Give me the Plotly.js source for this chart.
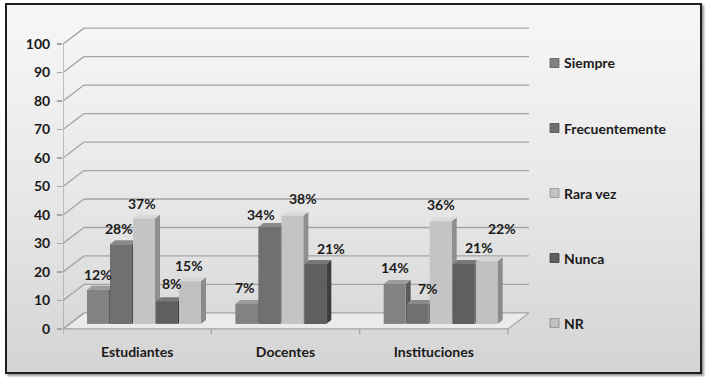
<!DOCTYPE html>
<html>
<head>
<meta charset="utf-8">
<script src="https://cdn.plot.ly/plotly-3.0.1.min.js"></script>
<style>
  html, body { margin: 0; padding: 0; width: 708px; height: 384px; background: #ffffff; overflow: hidden; }
  #frame { position: absolute; left: 5px; top: 3px; width: 693px; height: 367px;
           border: 2px solid #1e1e1e; box-shadow: 2px 2px 2px #9a9a9a;
           background: linear-gradient(to bottom, #f7f7f7 0%, #e8e8e8 50%, #d4d4d4 100%); }
  #chart { position: absolute; left: 0; top: 0; width: 708px; height: 384px; }
</style>
</head>
<body>
<div id="frame"></div>
<div id="chart"></div>
<script>
// ---- data ----
const categories = ["Estudiantes", "Docentes", "Instituciones"];
const seriesNames = ["Siempre", "Frecuentemente", "Rara vez", "Nunca", "NR"];
const siempre        = [12, 7, 14];
const frecuentemente = [28, 34, 7];
const raraVez        = [37, 38, 36];
const nunca          = [8, 21, 21];
const nr             = [15, null, 22];
const yTicks = [0, 10, 20, 30, 40, 50, 60, 70, 80, 90, 100];

const seriesValues = [siempre, frecuentemente, raraVez, nunca, nr];

// ---- styles ----
const FONT = "Lato, 'Open Sans', sans-serif";
const front = ["#828282", "#707070", "#c4c4c4", "#5f5f5f", "#c0c0c0"];
const side  = ["#5a5a5a", "#4c4c4c", "#8f8f8f", "#3e3e3e", "#8b8b8b"];
const top_  = ["#9c9c9c", "#8a8a8a", "#dadada", "#787878", "#d6d6d6"];
const BASE = 1.75;          // bars stand slightly into the floor
const FIRST = -0.338, SLOT = 0.155, BW = 0.148;
const DX = 0.034, DY = 1.4; // bar depth
const FDX = 0.1416, FDY = 5.6; // floor / wall depth
const XMIN = -0.5, XMAX = 2.5;
// label nudges [px right, px up] per group/series
const nudge = [
  [[0,0],[-2,0],[-2,0],[5,2],[-1,0]],
  [[-1,1],[-8,-3],[11,2],[16,0],[0,0]],
  [[0,1],[10,0],[0,1],[15,1],[15,17]]
];

const xIdx = categories.map((c, i) => i);
const traces = seriesValues.map((vals, s) => ({
  type: "bar", name: seriesNames[s], x: xIdx, y: vals,
  base: BASE, offset: FIRST + s * SLOT, width: BW,
  marker: { color: front[s], line: { width: 0 } },
  showlegend: false, hoverinfo: "skip"
}));

const shapes = [];
const gridColor = "#a3a3a3";
// floor
shapes.push({ type: "path", xref: "x", yref: "y", layer: "below",
  path: `M${XMIN},0 L${XMAX},0 L${XMAX+FDX},${FDY} L${XMIN+FDX},${FDY} Z`,
  fillcolor: "#ebebeb", line: { color: gridColor, width: 1.2 } });
// wall gridlines
yTicks.forEach(v => {
  shapes.push({ type: "line", xref: "x", yref: "y", layer: "below",
    x0: XMIN, y0: v, x1: XMIN + FDX, y1: v + FDY, line: { color: gridColor, width: 1.3 } });
  if (v > 0) shapes.push({ type: "line", xref: "x", yref: "y", layer: "below",
    x0: XMIN + FDX, y0: v + FDY, x1: XMAX + FDX, y1: v + FDY, line: { color: gridColor, width: 1.3 } });
});
// y axis line
shapes.push({ type: "line", xref: "x", yref: "y", layer: "below",
  x0: XMIN, y0: 0, x1: XMIN, y1: yTicks[yTicks.length-1], line: { color: gridColor, width: 1.3 } });
// x axis ticks at category boundaries
for (let k = 0; k <= categories.length; k++) {
  shapes.push({ type: "line", xref: "x", yref: "y", layer: "below",
    x0: XMIN + k, y0: 0, x1: XMIN + k, y1: -1.8, line: { color: gridColor, width: 1.3 } });
}
// bar side and top faces (behind front faces)
const annotations = [];
seriesValues.forEach((vals, s) => {
  vals.forEach((v, g) => {
    if (v === null || v === undefined) return;
    const x0 = g + FIRST + s * SLOT, x1 = x0 + BW;
    const yb = BASE, yt = BASE + v;
    shapes.push({ type: "path", xref: "x", yref: "y", layer: "below",
      path: `M${x1},${yb} L${x1+DX},${yb+DY} L${x1+DX},${yt+DY} L${x1},${yt} Z`,
      fillcolor: side[s], line: { width: 0 } });
    shapes.push({ type: "path", xref: "x", yref: "y", layer: "below",
      path: `M${x0},${yt} L${x1},${yt} L${x1+DX},${yt+DY} L${x0+DX},${yt+DY} Z`,
      fillcolor: top_[s], line: { width: 0 } });
    const n = nudge[g][s];
    annotations.push({ x: (x0 + x1) / 2, y: yt, xref: "x", yref: "y",
      text: v + "%", showarrow: false, yanchor: "bottom", xanchor: "center",
      xshift: n[0], yshift: 5 + n[1],
      font: { family: FONT, size: 14, color: "#1a1a1a", weight: 700 } });
  });
});
// manual legend
const legY = [63, 128, 193, 258, 323];
seriesNames.forEach((name, s) => {
  shapes.push({ type: "rect", xref: "paper", yref: "paper",
    xsizemode: "pixel", ysizemode: "pixel",
    xanchor: (554.5 - 63) / 466, yanchor: (336 - legY[s]) / 309,
    x0: -4.5, x1: 4.5, y0: -4.5, y1: 4.5,
    fillcolor: front[s], line: { color: side[s], width: 0.8 } });
  annotations.push({ xref: "paper", yref: "paper",
    x: (562 - 63) / 466, y: (336 - legY[s]) / 309,
    xanchor: "left", yanchor: "middle", showarrow: false, text: name,
    font: { family: FONT, size: 14, color: "#1a1a1a", weight: 700 } });
});

const layout = {
  width: 708, height: 384,
  margin: { l: 63, r: 179, t: 27, b: 48 },
  paper_bgcolor: "rgba(0,0,0,0)", plot_bgcolor: "rgba(0,0,0,0)",
  barmode: "overlay", showlegend: false,
  xaxis: { range: [XMIN, XMAX + FDX], tickvals: xIdx, ticktext: categories,
    showgrid: false, zeroline: false, showline: false, ticks: "",
    ticklabelstandoff: 6,
    tickfont: { family: FONT, size: 14, color: "#1a1a1a", weight: 700 } },
  yaxis: { range: [-2.5, 106], tickvals: yTicks, showgrid: false, zeroline: false,
    showline: false, ticks: "outside", ticklen: 5, tickcolor: gridColor, tickwidth: 1.3,
    ticklabelstandoff: 4,
    tickfont: { family: FONT, size: 14, color: "#1a1a1a", weight: 700 } },
  shapes: shapes, annotations: annotations
};

Plotly.newPlot("chart", traces, layout, { staticPlot: true, displayModeBar: false });
</script>
</body>
</html>
